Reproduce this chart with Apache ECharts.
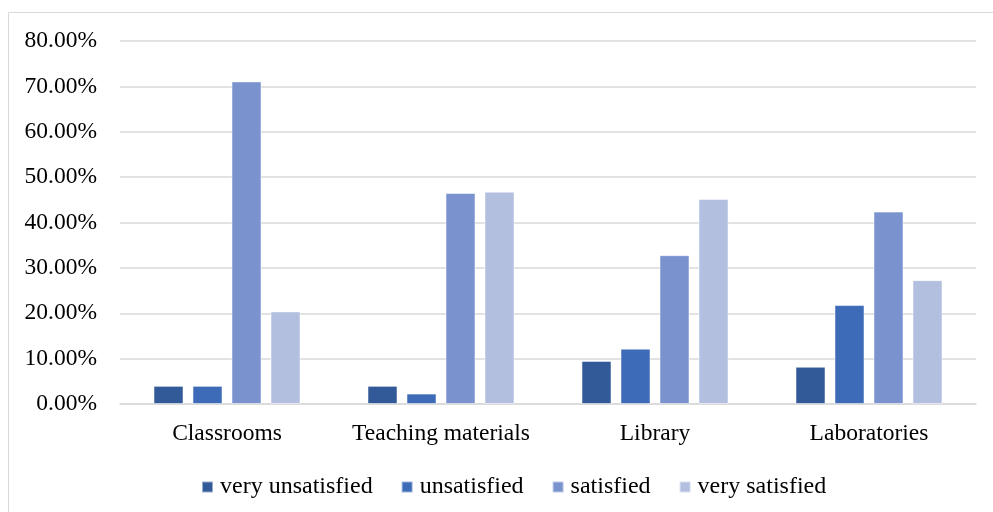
<!DOCTYPE html>
<html>
<head>
<meta charset="utf-8">
<script src="https://cdn.jsdelivr.net/npm/echarts@6/dist/echarts.min.js"></script>
<style>
  html, body { margin: 0; padding: 0; background: #fff; }
  #chart { width: 993px; height: 512px; }
</style>
</head>
<body>
<div id="chart"></div>
<script>
// categories and series (values in %)
const categories = ['Classrooms', 'Teaching materials', 'Library', 'Laboratories']
const seriesNames = ['very unsatisfied', 'unsatisfied', 'satisfied', 'very satisfied']
const veryUnsatisfied = [4.0, 4.0, 9.5, 8.2]
const unsatisfied = [4.0, 2.3, 12.2, 21.8]
const satisfied = [71.1, 46.5, 32.8, 42.4]
const verySatisfied = [20.4, 46.8, 45.2, 27.3]
const yMax = 80
const yStep = 10

const colors = ['#335A98', '#3E6BB8', '#7A93CF', '#B3BFDF']
const font = '"Liberation Serif", "Times New Roman", serif'

const chart = echarts.init(document.getElementById('chart'))
const values = [veryUnsatisfied, unsatisfied, satisfied, verySatisfied]

chart.setOption({
  animation: false,
  color: colors,
  textStyle: { fontFamily: font },
  graphic: [{
    type: 'rect',
    shape: { x: 8.5, y: 12.5, width: 1000, height: 600 },
    style: { fill: 'none', stroke: '#d9d9d9', lineWidth: 1 },
    silent: true
  }],
  grid: {
    left: 120,
    right: 17,
    top: 41,
    bottom: 108
  },
  legend: {
    bottom: 8,
    left: 196,
    icon: 'rect',
    itemWidth: 11,
    itemHeight: 11,
    itemGap: 28,
    textStyle: { fontFamily: font, fontSize: 24, color: '#000', padding: [0, 0, 0, 2] },
    data: seriesNames
  },
  xAxis: {
    type: 'category',
    data: categories,
    axisLine: { lineStyle: { color: '#d9d9d9', width: 1.5 } },
    axisTick: { show: false },
    axisLabel: { fontFamily: font, fontSize: 23.5, color: '#000', margin: 18, interval: 0 }
  },
  yAxis: {
    type: 'value',
    min: 0,
    max: yMax,
    interval: yStep,
    axisLine: { show: false },
    axisTick: { show: false },
    axisLabel: {
      fontFamily: font,
      fontSize: 23.5,
      color: '#000',
      margin: 23,
      lineHeight: 28,
      padding: [5, 0, 0, 0],
      formatter: v => v.toFixed(2) + '%'
    },
    splitLine: { lineStyle: { color: '#d9d9d9', width: 1.5 } }
  },
  series: seriesNames.map((name, i) => ({
    name,
    type: 'bar',
    data: values[i],
    barWidth: 30,
    barGap: '30%',
    itemStyle: { borderColor: 'rgba(255,255,255,0.5)', borderWidth: 1 }
  }))
})
</script>
</body>
</html>
